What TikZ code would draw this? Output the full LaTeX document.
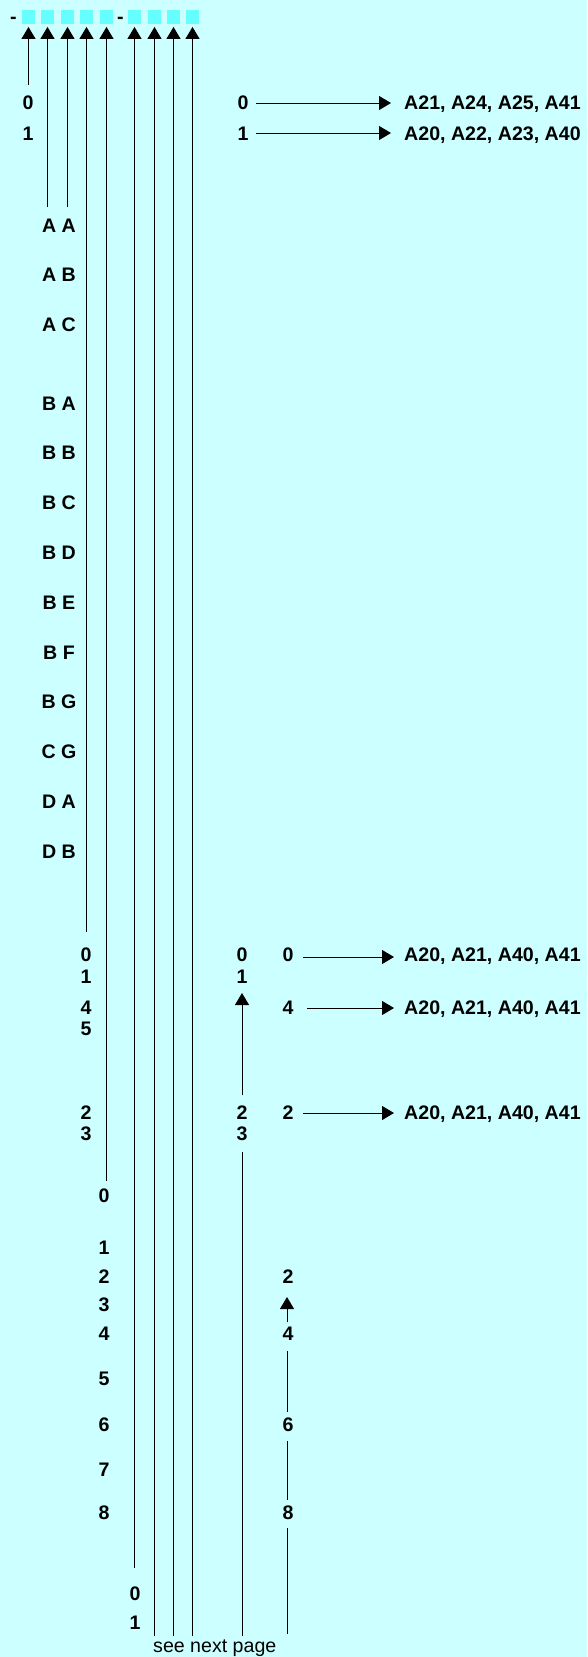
\documentclass[tikz,border=0pt]{standalone}
\usepackage{fontspec}
\setmainfont{Liberation Sans}
\usetikzlibrary{arrows.meta}
\definecolor{bgc}{RGB}{204,255,255}
\definecolor{boxc}{RGB}{102,255,255}
\begin{document}
\begin{tikzpicture}[x=1pt,y=-1pt,
  lbl/.style={font=\bfseries\fontsize{19.6}{22}\selectfont, inner sep=0pt, anchor=base},
  lblw/.style={lbl, anchor=base west},
  note/.style={font=\fontsize{19.6}{22}\selectfont, inner sep=0pt, anchor=base west},
  wire/.style={line width=1pt, black},
  arr/.style={wire, -{Triangle[length=12pt,width=14pt]}},
  cell/.style={fill=boxc, minimum size=13.5pt, inner sep=0pt}]
\fill[bgc] (0,0) rectangle (587,1657);
\useasboundingbox (0,0) rectangle (587,1657);

% top row of cells
\node[lbl] (d1) at (13.5,23.5) {-};
\node[lbl] (d2) at (120.5,23.5) {-};
\foreach \i/\x in {1/28.5,2/47.5,3/67.5,4/86.5,5/106.5,6/134.5,7/154.5,8/173.5,9/192.5}
  \node[cell] (b\i) at (\x,17) {};

% lower ends of the vertical lines
\coordinate (e1) at (28.5,85);
\coordinate (e2) at (47.5,207);
\coordinate (e3) at (67.5,207);
\coordinate (e4) at (86.5,932);
\coordinate (e5) at (106.5,1181);
\coordinate (e6) at (134.5,1568);
\coordinate (e7) at (154.5,1636);
\coordinate (e8) at (173.5,1636);
\coordinate (e9) at (192.5,1636);
\foreach \i in {1,...,9}
  \draw[arr, shorten >=3pt] (e\i) -- (b\i.south);

% column 1
\node[lbl] (c1a) at (28,109) {0};
\node[lbl] (c1b) at (28,140) {1};

% top right
\node[lbl] (r1a) at (243,109) {0};
\node[lbl] (r1b) at (243,140) {1};
\node[lblw] (t1a) at (404,109) {A21, A24, A25, A41};
\node[lblw] (t1b) at (404,140) {A20, A22, A23, A40};
\coordinate (p1a) at (256,103);
\coordinate (q1a) at (391,103);
\coordinate (p1b) at (256,133);
\coordinate (q1b) at (391,133);
\draw[arr] (p1a) -- (q1a);
\draw[arr] (p1b) -- (q1b);

% columns 2-3 labels
\foreach \t/\y [count=\k] in {A A/225,A B/274,A C/324,B A/403,B B/452,B C/502,B D/552,B E/602,B F/652,B G/701,C G/751,D A/801,D B/851}
  \node[lbl] (ab\k) at (59,\y+7) {\t};

% column 4 labels
\foreach \t/\y [count=\k] in {0/954,1/976,4/1007,5/1028,2/1112,3/1133}
  \node[lbl] (c4\k) at (86,\y+7) {\t};

% column 5 labels
\foreach \t/\y [count=\k] in {0/1195,1/1247,2/1276,3/1304,4/1333,5/1378,6/1424,7/1469,8/1512}
  \node[lbl] (c5\k) at (104,\y+7) {\t};

% column 6 labels
\node[lbl] (c6a) at (135,1600) {0};
\node[lbl] (c6b) at (135,1629) {1};

% column at x=242
\foreach \t/\y [count=\k] in {0/954,1/976,2/1112,3/1133}
  \node[lbl] (m\k) at (242,\y+7) {\t};
\coordinate (ma) at (242,1095);
\coordinate (mb) at (242,993);
\coordinate (mc) at (242,1152);
\coordinate (md) at (242,1636);
\draw[arr] (ma) -- (mb);
\draw[wire] (mc) -- (md);

% right labels with arrows
\node[lbl] (ra) at (288,961) {0};
\node[lbl] (rb) at (288,1014) {4};
\node[lbl] (rc) at (288,1119) {2};
\node[lblw] (ta) at (404,961) {A20, A21, A40, A41};
\node[lblw] (tb) at (404,1014) {A20, A21, A40, A41};
\node[lblw] (tc) at (404,1119) {A20, A21, A40, A41};
\coordinate (pa) at (303,957);
\coordinate (qa) at (394,957);
\coordinate (pb) at (307,1008);
\coordinate (qb) at (394,1008);
\coordinate (pc) at (303,1113);
\coordinate (qc) at (394,1113);
\draw[arr] (pa) -- (qa);
\draw[arr] (pb) -- (qb);
\draw[arr] (pc) -- (qc);

% far right column
\foreach \t/\y [count=\k] in {2/1276,4/1333,6/1424,8/1512}
  \node[lbl] (f\k) at (288,\y+7) {\t};
\coordinate (fa) at (287,1322);
\coordinate (fb) at (287,1297);
\draw[arr] (fa) -- (fb);
\coordinate (g1) at (287,1351);
\coordinate (g2) at (287,1412);
\coordinate (g3) at (287,1441);
\coordinate (g4) at (287,1500);
\coordinate (g5) at (287,1528);
\coordinate (g6) at (287,1634);
\draw[wire] (g1) -- (g2);
\draw[wire] (g3) -- (g4);
\draw[wire] (g5) -- (g6);

% footer
\node[note] (snp) at (153,1652) {see next page};
\end{tikzpicture}
\end{document}
